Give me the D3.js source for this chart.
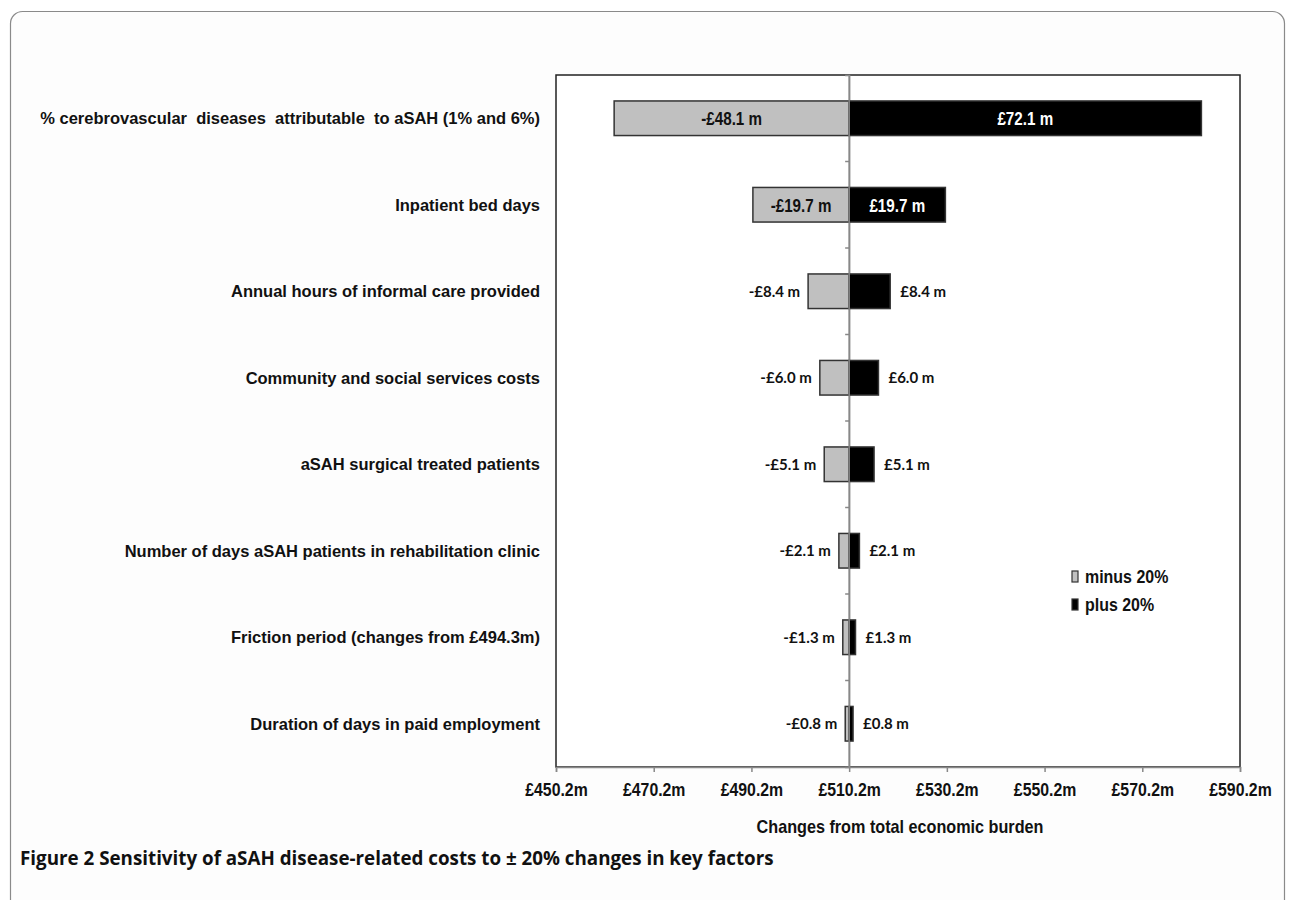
<!DOCTYPE html>
<html><head><meta charset="utf-8">
<script src="https://cdn.jsdelivr.net/npm/d3@7"></script>
<style>
html,body{margin:0;padding:0;background:#fff;}
svg{display:block;}
</style></head>
<body>
<svg id="chart" width="1289" height="900"></svg>
<script>
const categories = [
  "% cerebrovascular  diseases  attributable  to aSAH (1% and 6%)",
  "Inpatient bed days",
  "Annual hours of informal care provided",
  "Community and social services costs",
  "aSAH surgical treated patients",
  "Number of days aSAH patients in rehabilitation clinic",
  "Friction period (changes from £494.3m)",
  "Duration of days in paid employment"
];
const minusValues = [-48.1, -19.7, -8.4, -6.0, -5.1, -2.1, -1.3, -0.8];
const plusValues  = [72.1, 19.7, 8.4, 6.0, 5.1, 2.1, 1.3, 0.8];
const baseline = 510.2;
const tickValues = [450.2, 470.2, 490.2, 510.2, 530.2, 550.2, 570.2, 590.2];
const seriesNames = ["minus 20%", "plus 20%"];
const xTitle = "Changes from total economic burden";
const captionBold = "Figure 2";
const captionRest = " Sensitivity of aSAH disease-related costs to \u00b1 20% changes in key factors";

const svg = d3.select("#chart");
const arial = "'Liberation Sans',Arial,sans-serif";
const calib = "Lato,'Open Sans',sans-serif";

// outer frame
svg.append("rect").attr("x",10.5).attr("y",11.5).attr("width",1274).attr("height",920)
  .attr("rx",12).attr("fill","#fdfdfd").attr("stroke","#8a8a8a").attr("stroke-width",1.2);

const L = 556, R = 1240, T = 75, B = 767;
const x = d3.scaleLinear().domain([450.2, 590.2]).range([L, R]);
const y = d3.scaleBand().domain(categories).range([T, B]).paddingInner(0.6).paddingOuter(0.3);
const yb = d3.scaleBand().domain(categories).range([T, B]);

const g = svg.append("g");
g.append("rect").attr("x",L).attr("y",T).attr("width",R-L).attr("height",B-T)
  .attr("fill","#fff").attr("stroke","#222").attr("stroke-width",1.5);

// x axis
const xAxis = d3.axisBottom(x).tickValues(tickValues).tickSize(5).tickPadding(11)
  .tickFormat(d => "£" + d.toFixed(1) + "m");
const xg = g.append("g").attr("transform",`translate(0,${B})`).call(xAxis);
xg.select(".domain").attr("stroke","#888").attr("stroke-width",1.5);
xg.selectAll(".tick line").attr("stroke","#888").attr("stroke-width",1.5);
xg.selectAll(".tick text").attr("font-family",arial).attr("font-weight","bold")
  .attr("font-size",18).attr("fill","#111").attr("transform","scale(0.88,1)");

g.append("text").attr("transform","translate(900,833) scale(0.9,1)").attr("text-anchor","middle")
  .attr("font-family",arial).attr("font-weight","bold").attr("font-size",18).attr("fill","#111")
  .text(xTitle);

// category axis at baseline
const yAxis = d3.axisLeft(yb).tickSize(4).tickFormat("");
const yg = g.append("g").attr("transform",`translate(${x(baseline)},0)`).call(yAxis);
yg.select(".domain").attr("stroke","#888").attr("stroke-width",1.5);
yg.selectAll(".tick").attr("transform", d => `translate(0,${yb(d)})`);
yg.selectAll(".tick line").attr("stroke","#888").attr("stroke-width",1.5)
  .attr("display",(d,i)=> i===0 ? "none" : null);

// category labels
g.selectAll(".cat").data(categories).join("text").attr("class","cat")
  .attr("x",540).attr("y",d => y(d)+y.bandwidth()/2).attr("dy","0.35em")
  .attr("text-anchor","end").attr("font-family",arial).attr("font-weight","bold")
  .attr("font-size",16.5).attr("fill","#111").style("white-space","pre").text(d=>d);

const rows = categories.map((c,i)=>({c, m:minusValues[i], p:plusValues[i]}));
// bars
g.selectAll(".mbar").data(rows).join("rect").attr("class","mbar")
  .attr("x",d=>x(baseline+d.m)).attr("width",d=>x(baseline)-x(baseline+d.m))
  .attr("y",d=>y(d.c)).attr("height",y.bandwidth())
  .attr("fill","#c0c0c0").attr("stroke","#333").attr("stroke-width",1.5);
g.selectAll(".pbar").data(rows).join("rect").attr("class","pbar")
  .attr("x",x(baseline)).attr("width",d=>x(baseline+d.p)-x(baseline))
  .attr("y",d=>y(d.c)).attr("height",y.bandwidth())
  .attr("fill","#000").attr("stroke","#333").attr("stroke-width",1.5);
g.append("line").attr("x1",x(baseline)).attr("x2",x(baseline)).attr("y1",T).attr("y2",B)
  .attr("stroke","#888").attr("stroke-width",1.5);

const fmt = v => (v<0?"-":"") + "£" + Math.abs(v).toFixed(1) + " m";
const inside = v => Math.abs(v) >= 15;
function label(cls, key, color) {
  g.selectAll("."+cls).data(rows).join("text").attr("class",cls)
    .attr("transform", d => {
      const v = d[key];
      const cy = y(d.c)+y.bandwidth()/2;
      if (inside(v)) return `translate(${(x(baseline+v)+x(baseline))/2},${cy}) scale(0.8,1)`;
      const xx = v < 0 ? x(baseline+v)-8 : x(baseline+v)+10;
      return `translate(${xx},${cy})`;
    })
    .attr("dy","0.36em")
    .attr("text-anchor",d=>inside(d[key])?"middle":(d[key]<0?"end":"start"))
    .attr("font-family",d=>inside(d[key])?arial:calib).attr("font-weight","bold")
    .attr("font-size",d=>inside(d[key])?19:15)
    .attr("fill",d=>inside(d[key])?color:"#111").text(d=>fmt(d[key]));
}
label("mlab","m","#111");
label("plab","p","#fff");

// legend
const leg = g.append("g").attr("transform","translate(1072,571)");
seriesNames.forEach((s,i)=>{
  leg.append("rect").attr("x",0).attr("y",i*28).attr("width",6).attr("height",11)
    .attr("fill", i===0?"#c0c0c0":"#000").attr("stroke","#333").attr("stroke-width",1.2);
  leg.append("text").attr("transform",`translate(13,${i*28+12}) scale(0.84,1)`).attr("font-family",arial)
    .attr("font-weight","bold").attr("font-size",19).attr("fill","#111").text(s);
});

// caption
const cap = svg.append("text").attr("transform","translate(20,865) scale(0.94,1)")
  .attr("font-family","'Open Sans',sans-serif").attr("font-size",20).attr("font-weight","bold").attr("fill","#111");
cap.append("tspan").text(captionBold);
cap.append("tspan").text(captionRest);
</script>
</body></html>
